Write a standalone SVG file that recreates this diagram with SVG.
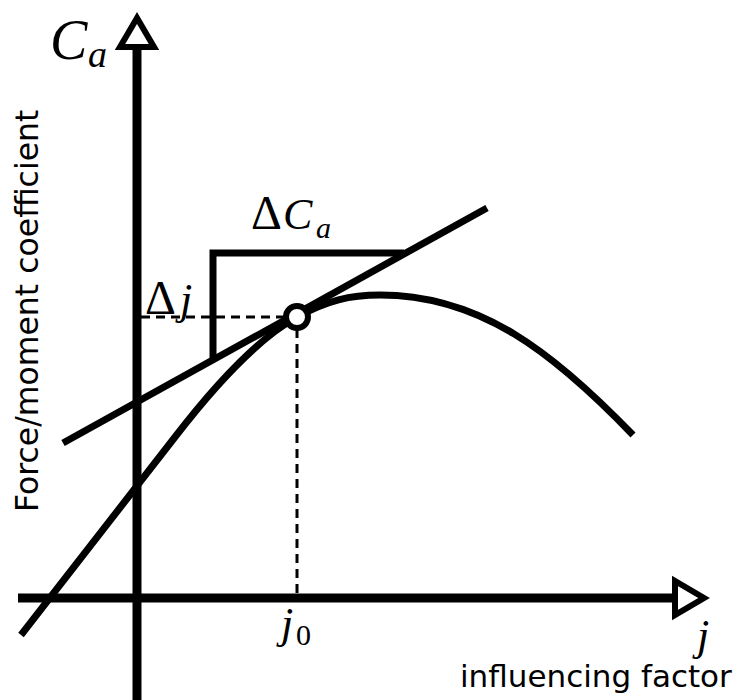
<svg xmlns="http://www.w3.org/2000/svg" width="742" height="700" viewBox="0 0 742 700">
<style>
.ax{stroke:#000;stroke-width:9;fill:none}
.ln{stroke:#000;stroke-width:7;fill:none;stroke-linecap:butt;stroke-linejoin:miter}
.dash{stroke:#000;stroke-width:3;stroke-dasharray:9 6;fill:none}
.arrow{fill:#fff;stroke:#000;stroke-width:6;stroke-linejoin:miter}
.math{font-family:"Liberation Serif","DejaVu Serif",serif;fill:#000}
.it{font-style:italic}
.lab{font-family:"DejaVu Sans",Verdana,sans-serif;fill:#000}
</style>
<rect width="742" height="700" fill="#fff"/>
<g id="connectors">
  <path id="dash-h" class="dash" d="M141,317 H286"/>
  <path id="dash-v" class="dash" d="M297,329 V594"/>
  <path id="tangent" class="ln" d="M63,443 L487,208"/>
  <path id="delta-box" class="ln" d="M213,360 L213,253 L404,253"/>
  <path id="curve" class="ln" d="M21,635 L175,437 Q246,345 297,317 C327,300.4 350,295 380,295 C480,295 553,352 633,435"/>
</g>
<g id="y-axis">
  <line class="ax" x1="137" y1="700" x2="137" y2="47"/>
  <polygon class="arrow" points="137,18 120,47 154,47"/>
</g>
<g id="x-axis">
  <line class="ax" x1="18" y1="598" x2="675" y2="598"/>
  <polygon class="arrow" points="675,581 675,615 704,598"/>
</g>
<g id="point">
  <circle cx="297" cy="317" r="11" fill="#fff" stroke="#000" stroke-width="6"/>
</g>
<g id="labels">
  <text class="math it" font-size="56" x="50" y="59">C</text>
  <text class="math it" font-size="38" x="88" y="67">a</text>
  <text class="math" font-size="48" x="251" y="229">Δ</text>
  <text class="math it" font-size="44" x="283" y="229">C</text>
  <text class="math it" font-size="30" x="316" y="238">a</text>
  <text class="math" font-size="48" x="145" y="314">Δ</text>
  <text class="math it" font-size="44" x="180" y="314">j</text>
  <text class="math it" font-size="44" x="281" y="638">j</text>
  <text class="math" font-size="30" x="296" y="645">0</text>
  <text class="math it" font-size="44" x="697" y="650">j</text>
  <text class="lab" font-size="31" x="460" y="687">influencing factor</text>
  <text class="lab" font-size="31.5" transform="translate(38,512) rotate(-90)">Force/moment coefficient</text>
</g>
</svg>
